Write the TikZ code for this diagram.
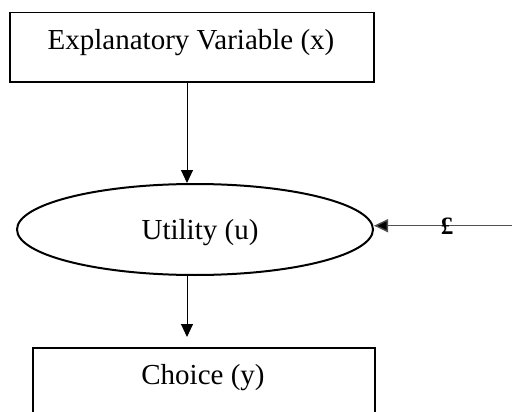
\documentclass[tikz,border=0pt]{standalone}
\usepackage{fontspec}
\setmainfont{Liberation Serif}
\usetikzlibrary{shapes.geometric,arrows.meta}
\begin{document}
\begin{tikzpicture}[x=1pt,y=-1pt,
  boxstyle/.style={draw,line width=1.8pt,inner sep=0pt},
  lbl/.style={font=\fontsize{29}{34}\selectfont,anchor=base,inner sep=0pt},
  arr/.style={line width=1pt,-{Triangle[length=13pt,width=12pt]}},
  garr/.style={line width=1.4pt,draw={rgb,255:red,80;green,80;blue,80},-{Triangle[length=14pt,width=13pt,fill=black]}}]
\clip (0,0) rectangle (512,412);
\fill[white] (0,0) rectangle (512,412);
% top box
\node[boxstyle,anchor=north west,minimum width=364pt,minimum height=69.3pt] (ex) at (9,11.7) {};
\node[lbl] (extext) at (191,50) {Explanatory Variable (x)};
% ellipse
\node[ellipse,draw,line width=2pt,minimum width=356pt,minimum height=91pt,inner sep=0pt] (ut) at (195,229.5) {};
\node[lbl] (uttext) at (200,239) {Utility (u)};
% bottom box
\node[boxstyle,anchor=north west,minimum width=342pt,minimum height=90pt] (ch) at (32,347) {};
\node[lbl] (chtext) at (203,384) {Choice (y)};
% connectors
\coordinate (ax) at (187,0);
\coordinate (rs) at (512,225.7);
\draw[arr] (ex.south -| ax) -- (ut.north -| ax);
\draw[arr] (ut.south -| ax) -- ([yshift=10pt]ch.north -| ax);
\draw[garr] (rs) -- (ut.east |- rs);
\node[font=\bfseries\fontsize{25}{28}\selectfont,anchor=base,inner sep=0pt] (pd) at (447,234) {£};
\end{tikzpicture}
\end{document}
